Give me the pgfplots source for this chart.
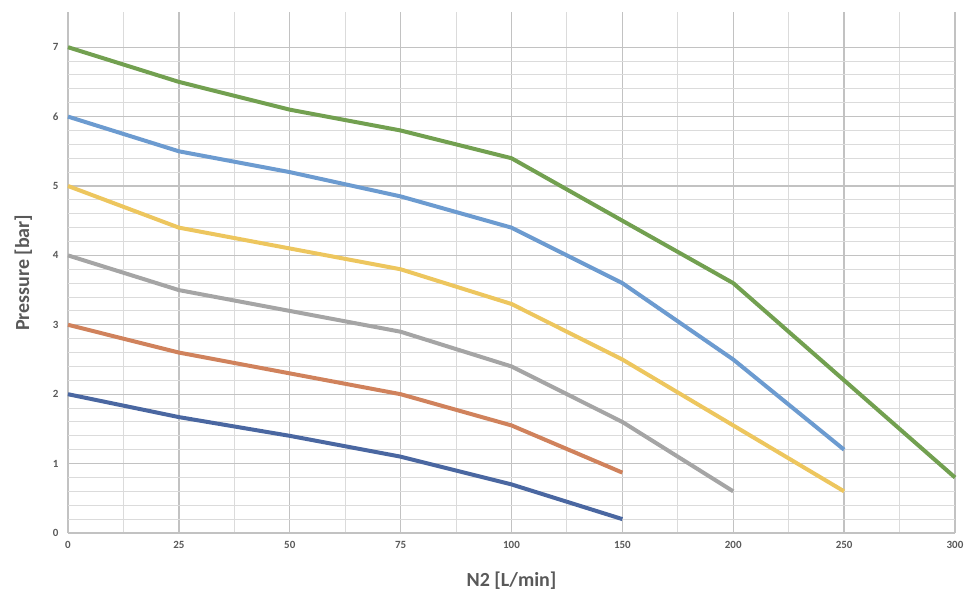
\documentclass[border=0pt]{standalone}
\usepackage{pgfplots}
\pgfplotsset{compat=1.18}
\usepackage{fontspec}
\setmainfont{Carlito}

\definecolor{sdarkblue}{HTML}{4A67A1}
\definecolor{sorange}{HTML}{D0825C}
\definecolor{sgray}{HTML}{A5A5A5}
\definecolor{syellow}{HTML}{EDC65E}
\definecolor{slightblue}{HTML}{6C9BD0}
\definecolor{sgreen}{HTML}{72A050}
\definecolor{txt}{HTML}{595959}

\begin{document}
\begin{tikzpicture}
\path[use as bounding box] (0,0) rectangle (964bp,596bp);
\begin{axis}[
    at={(68bp,63bp)}, anchor=south west,
    scale only axis,
    width=887bp, height=520.5bp,
    xmin=0, xmax=8,
    ymin=0, ymax=7.5,
    xtick={0,...,8},
    xticklabels={0,25,50,75,100,150,200,250,300},
    ytick={0,...,7},
    minor x tick num=1,
    minor y tick num=4,
    major tick length=0pt, minor tick length=0pt,
    grid=both,
    major grid style={draw=black!24, line width=1.3bp},
    minor grid style={draw=black!14, line width=1bp},
    axis line style={draw=none},
    /pgf/number format/assume math mode=true,
    ticklabel style={font=\fontsize{11bp}{13bp}\selectfont\bfseries, text=txt},
    xticklabel style={yshift=-5bp},
    yticklabel style={xshift=-6bp},
    xlabel={N2 [L/min]},
    ylabel={Pressure [bar]},
    label style={font=\fontsize{20bp}{24bp}\selectfont\bfseries, text=txt},
    xlabel style={yshift=-16bp},
    ylabel style={yshift=14bp},
    every axis plot/.append style={line width=4bp, line join=round},
    clip=false,
]
% 0,25,50,75,100,150,200,250,300 -> indices 0..8
\addplot[sdarkblue] coordinates {(0,2) (1,1.67) (2,1.4) (3,1.1) (4,0.7) (5,0.2)};
\addplot[sorange] coordinates {(0,3) (1,2.6) (2,2.3) (3,2.0) (4,1.55) (5,0.87)};
\addplot[sgray] coordinates {(0,4) (1,3.5) (2,3.2) (3,2.9) (4,2.4) (5,1.6) (6,0.6)};
\addplot[syellow] coordinates {(0,5) (1,4.4) (2,4.1) (3,3.8) (4,3.3) (5,2.5) (6,1.55) (7,0.6)};
\addplot[slightblue] coordinates {(0,6) (1,5.5) (2,5.2) (3,4.85) (4,4.4) (5,3.6) (6,2.5) (7,1.2)};
\addplot[sgreen] coordinates {(0,7) (1,6.5) (2,6.1) (3,5.8) (4,5.4) (5,4.5) (6,3.6) (7,2.2) (8,0.8)};
\end{axis}
\end{tikzpicture}
\end{document}
